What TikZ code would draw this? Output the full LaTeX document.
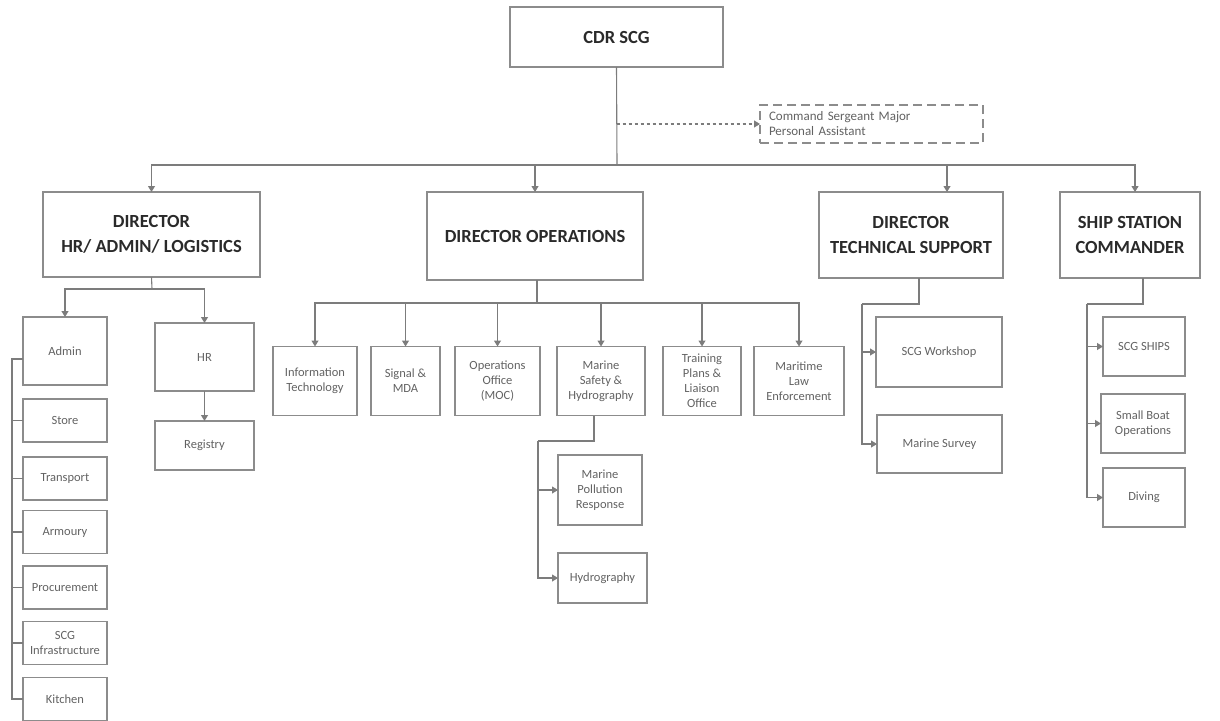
\documentclass[tikz,border=0pt]{standalone}
\usepackage{fontspec}
\setmainfont{Carlito}
\usetikzlibrary{arrows.meta}

\definecolor{boxgray}{HTML}{8C8C8C}
\definecolor{linegray}{HTML}{7C7C7C}
\definecolor{txtgray}{HTML}{626262}
\definecolor{txtdark}{HTML}{2A2A2A}

\begin{document}
\begin{tikzpicture}[x=1pt,y=-1pt,
  box/.style = {rectangle,draw=boxgray,line width=1.4pt,align=center,text=txtgray,
                font=\fontsize{12.5}{15}\selectfont,inner sep=1pt,outer sep=0pt},
  dirbox/.style = {box,text=txtdark,font=\bfseries\fontsize{18.5}{24.5}\selectfont},
  conn/.style = {draw=linegray,line width=1.1pt},
  arr/.style = {conn,-{Triangle[width=7pt,length=6pt]}}]
\useasboundingbox (0,0) rectangle (1220,720);

% top
\node[dirbox,minimum width=213,minimum height=60] (cdr) at (616.5,37) {CDR SCG};
\node[box,dashed,dash pattern=on 9pt off 5pt,minimum width=223,minimum height=38,
      text width=205,align=left,font=\fontsize{13}{15}\selectfont] (csm) at (871.5,124) {Command Sergeant Major\\Personal Assistant};

% directors
\node[dirbox,minimum width=217,minimum height=85] (dhr)   at (151.5,234.5) {DIRECTOR\\HR/ ADMIN/ LOGISTICS};
\node[dirbox,minimum width=216,minimum height=88] (dops)  at (535,236)     {DIRECTOR OPERATIONS};
\node[dirbox,minimum width=184,minimum height=86] (dtech) at (911,235)     {DIRECTOR\\TECHNICAL SUPPORT};
\node[dirbox,minimum width=140,minimum height=86] (dship) at (1130,235)    {SHIP STATION\\COMMANDER};

% hr / admin / logistics
\node[box,minimum width=84,minimum height=68] (admin)    at (65,351)     {Admin};
\node[box,minimum width=99,minimum height=68] (hr)       at (204.5,357)  {HR};
\node[box,minimum width=99,minimum height=49] (registry) at (204.5,445.5) {Registry};
\foreach \nm/\y/\t in {store/420.5/Store, transport/478.5/Transport, armoury/532/Armoury,
                       procurement/587.5/Procurement, infra/643/{SCG\\Infrastructure}, kitchen/699/Kitchen}
    \node[box,minimum width=84,minimum height=43] (\nm) at (65,\y) {\t};

% operations
\foreach \nm/\x/\w/\t in {it/315/84/{Information\\Technology}, sig/405.5/69/{Signal \&\\MDA},
                          moc/497.5/85/{Operations\\Office\\(MOC)}, msh/601/88/{Marine\\Safety \&\\Hydrography},
                          tpl/702/78/{Training\\Plans \&\\Liaison\\Office}, mle/799/90/{Maritime\\Law\\Enforcement}}
    \node[box,minimum width=\w,minimum height=69] (\nm) at (\x,381) {\t};
\node[box,minimum width=84,minimum height=70] (mpr) at (600,490)   {Marine\\Pollution\\Response};
\node[box,minimum width=89,minimum height=50] (hyd) at (602.5,578) {Hydrography};

% technical support
\node[box,minimum width=126,minimum height=70] (wks)    at (939,352)   {SCG Workshop};
\node[box,minimum width=125,minimum height=58] (survey) at (939.5,444) {Marine Survey};

% ship station
\node[box,minimum width=82,minimum height=59] (ships) at (1144,346.5) {SCG SHIPS};
\node[box,minimum width=84,minimum height=59] (sbo)   at (1143,423.5) {Small Boat\\Operations};
\node[box,minimum width=82,minimum height=59] (dive)  at (1144,497.5) {Diving};

% connectors
\coordinate (bus) at (617,165);
\draw[conn] (cdr.south) -- (bus);
\draw[arr,dashed] (cdr.south |- csm.west) -- (csm.west);
\draw[arr] (bus) -| (dhr.north);
\draw[arr] (bus) -| (dops.north);
\draw[arr] (bus) -| ([xshift=36]dtech.north);
\draw[arr] (bus) -| ([xshift=5]dship.north);

\coordinate (hrbus) at (152,289);
\draw[conn] (dhr.south) -- (hrbus);
\draw[arr] (hrbus) -| (admin.north);
\draw[arr] (hrbus) -| (hr.north);
\draw[arr] (hr.south) -- (registry.north);
\coordinate (lbus) at (12,359);
\draw[conn] ([yshift=-8pt]admin.west) -- (lbus) -- (lbus |- kitchen.west) -- (kitchen.west);
\foreach \nm in {store, transport, armoury, procurement, infra}
    \draw[conn] (lbus |- \nm.west) -- (\nm.west);

\coordinate (opsbus) at (537,303);
\draw[conn] (opsbus |- dops.south) -- (opsbus);
\foreach \nm in {it, sig, moc, msh, tpl, mle}
    \draw[arr] (opsbus) -| (\nm.north);
\coordinate (mshbus) at (538,441);
\draw[conn] ([xshift=-7]msh.south) |- (mshbus);
\draw[arr] (mshbus) |- (mpr.west);
\draw[arr] (mshbus) |- (hyd.west);

\coordinate (techbus) at (862,304);
\draw[conn] ([xshift=8]dtech.south) |- (techbus);
\draw[arr] (techbus) |- (wks.west);
\draw[arr] (techbus) |- (survey.west);

\coordinate (shipbus) at (1087,304);
\draw[conn] ([xshift=13]dship.south) |- (shipbus);
\draw[arr] (shipbus) |- (ships.west);
\draw[arr] (shipbus) |- (sbo.west);
\draw[arr] (shipbus) |- (dive.west);
\end{tikzpicture}
\end{document}
